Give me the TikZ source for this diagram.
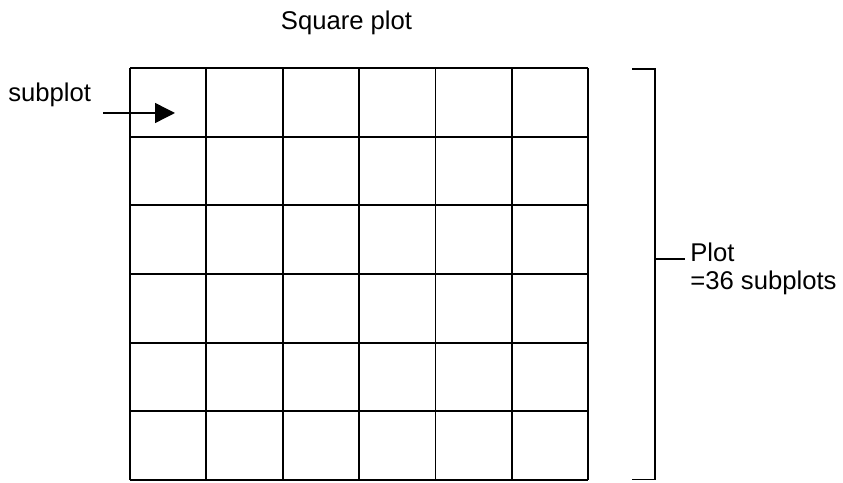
\documentclass[tikz,border=0pt]{standalone}
\usepackage{fontspec}
\setmainfont{Liberation Sans}
\usetikzlibrary{arrows.meta}
\tikzset{
  gridline/.style={line width=1pt},
  lbl/.style={font=\fontsize{14.6}{16}\selectfont,inner sep=0pt}
}
\begin{document}
\begin{tikzpicture}
\useasboundingbox (-2.6,-0.04) rectangle (14.26,9.6);
% 6 x 6 subplots
\foreach \i in {0,...,6} {
  \draw[gridline] (\i*1.527,0) -- (\i*1.527,8.24);
  \draw[gridline] (0,\i*1.3733) -- (9.162,\i*1.3733);
}
\node[lbl] (title) at (4.33,9.14) {Square plot};
\node[lbl,anchor=base west] (sub) at (-2.44,7.56) {subplot};
\coordinate (arrfrom) at (-0.54,7.34);
\coordinate (arrto) at (0.9,7.34);
\draw[line width=0.8pt,-{Triangle[length=0.4cm,width=0.4cm]}] (arrfrom) -- (arrto);
% bracket round the plot
\coordinate (btop) at (10.04,8.22);
\coordinate (bbot) at (10.04,0.01);
\coordinate (bmid) at (10.5,4.42);
\draw[gridline] (btop) -| (bmid) |- (bbot);
\node[lbl,anchor=base west,align=left] (plot) at (11.2,3.8) {Plot\\=36 subplots};
\draw[gridline] (bmid) -- ([xshift=-0.1cm]plot.west |- bmid);
\end{tikzpicture}
\end{document}
